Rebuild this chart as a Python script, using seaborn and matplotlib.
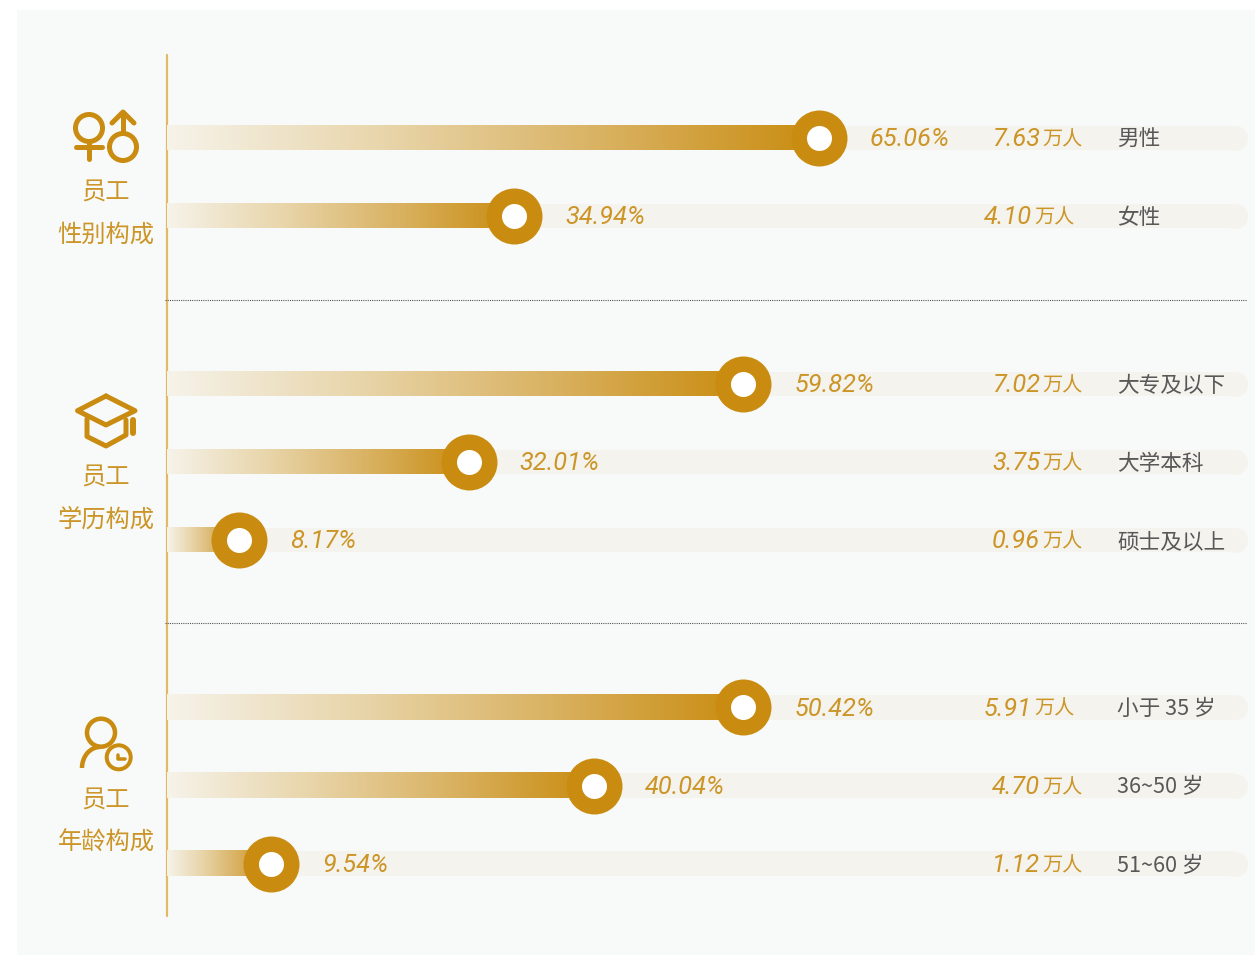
#!/usr/bin/env python3

import matplotlib.pyplot as plt
import numpy as np
import pandas as pd
import seaborn as sns
from matplotlib.patches import Arc, Circle, Rectangle

sns.set_theme(style='white')
plt.rcParams['font.family'] = ['Noto Sans CJK SC', 'DejaVu Sans']

# gender
gender_labels = ['男性', '女性']
gender_pct = ['65.06%', '34.94%']
gender_count = ['7.63', '4.10']
gender_drawn = [60.3, 32.1]

# education
edu_labels = ['大专及以下', '大学本科', '硕士及以上']
edu_pct = ['59.82%', '32.01%', '8.17%']
edu_count = ['7.02', '3.75', '0.96']
edu_drawn = [53.3, 27.9, 6.7]

# age
age_labels = ['小于 35 岁', '36~50 岁', '51~60 岁']
age_pct = ['50.42%', '40.04%', '9.54%']
age_count = ['5.91', '4.70', '1.12']
age_drawn = [53.3, 39.5, 9.6]

group_titles = ['性别构成', '学历构成', '年龄构成']
unit = '万人'

GOLD = '#c98c10'
TEXT_GOLD = '#cc9527'
TRACK = '#f5f3ee'
PANEL = '#f8faf9'
W, H = 1255, 955
PX = 72 / 100  # points per pixel
NUM_FONT = ['Roboto', 'Noto Sans CJK SC']

fig = plt.figure(figsize=(W / 100, H / 100), dpi=100, facecolor='white')

# overlay in pixel coords for panel, rules, icons
bg = fig.add_axes([0, 0, 1, 1], zorder=0)
bg.set_xlim(0, W)
bg.set_ylim(H, 0)
bg.axis('off')
bg.add_patch(Rectangle((17, 10), W - 17, H - 10, color=PANEL, lw=0))
bg.plot([167, 167], [55, 916], color='#e2b966', lw=1.6)
for yy in [300, 623]:
    bg.plot([165, 1247], [yy, yy], color='#555555', lw=0.8, ls=(0, (1, 1)))

gradient = sns.blend_palette(['#f6f3ea', '#e8d5aa', '#d9b262', '#c98c10'], as_cmap=True)


def draw_group(top, bottom, labels, pct, count, drawn, shift):
    ax = fig.add_axes([167 / W, 1 - bottom / H, (1248 - 167) / W, (bottom - top) / H], zorder=2)
    ax.patch.set_alpha(0)
    df = pd.DataFrame({'label': labels, 'drawn': drawn})
    df['track'] = 98.84
    sns.barplot(ax=ax, data=df, y='label', x='track', color=TRACK, saturation=1, width=0.32, linewidth=0)
    ax.scatter(df['track'], df['label'], s=(25 * PX) ** 2, color=TRACK, lw=0, zorder=1)
    n_track = len(ax.patches)
    sns.barplot(ax=ax, data=df, y='label', x='drawn', color=GOLD, saturation=1, width=0.32, linewidth=0)
    ylim = ax.get_ylim()
    for bar in ax.patches[n_track:]:
        bar.set_visible(False)
        ax.imshow(np.linspace(0, 1, 256).reshape(1, -1), cmap=gradient, aspect='auto', zorder=2,
                  extent=(bar.get_x(), bar.get_x() + bar.get_width(),
                          bar.get_y() + bar.get_height(), bar.get_y()))
    ax.set_ylim(ylim)
    ax.set_xlim(0, 100)
    ax.scatter(df['drawn'], df['label'], s=(56 * PX) ** 2, color=GOLD, lw=0, zorder=3, clip_on=False)
    ax.scatter(df['drawn'], df['label'], s=(25 * PX) ** 2, color='white', lw=0, zorder=4, clip_on=False)
    px = 100 / (1248 - 167)
    for i, name in enumerate(labels):
        ax.annotate(pct[i], (drawn[i], i), xytext=(51 * PX, -1.5 * PX), textcoords='offset points',
                    va='center', ha='left', color=TEXT_GOLD, fontsize=18.3, style='italic',
                    family=NUM_FONT, zorder=5)
        ax.annotate(count[i], ((1040 + shift[i] - 167) * px, i), xytext=(0, -1.5 * PX), textcoords='offset points',
                    va='center', ha='right', color=TEXT_GOLD, fontsize=18.3, style='italic',
                    family=NUM_FONT, zorder=5)
        ax.annotate(unit, ((1042 + shift[i] - 167) * px, i), xytext=(0, -2 * PX), textcoords='offset points',
                    va='center', ha='left', color=TEXT_GOLD, fontsize=14.5, zorder=5)
        ax.annotate(name, ((1118 - 167) * px, i), xytext=(-1 * PX, -2 * PX), textcoords='offset points',
                    va='center', ha='left', color='#595757', fontsize=15.6, zorder=5)
    ax.axis('off')
    return ax


draw_group(99, 255, gender_labels, gender_pct, gender_count, gender_drawn, [0, -8])
draw_group(345, 579, edu_labels, edu_pct, edu_count, edu_drawn, [0, 0, 0])
draw_group(668, 903, age_labels, age_pct, age_count, age_drawn, [-8, 0, 0])

# left side titles
for title, y1, y2 in zip(group_titles, [192, 477, 800], [235, 520, 843]):
    bg.text(106, y1, '员工', ha='center', va='center', color=TEXT_GOLD, fontsize=17.5)
    bg.text(106, y2, title, ha='center', va='center', color=TEXT_GOLD, fontsize=17.5)


# icons
def stroke(xs, ys, w=5):
    bg.plot(xs, ys, color=GOLD, lw=w * PX, solid_capstyle='round', solid_joinstyle='round')


def ring(x, y, r, w=5):
    bg.add_patch(Circle((x, y), r, fill=False, ec=GOLD, lw=w * PX))


ring(89, 128, 13.5)
stroke([89, 89], [142, 159])
stroke([76, 102], [147, 147])
ring(123, 147, 13.5)
stroke([123, 123], [133, 113])
stroke([112, 123, 134], [123, 112, 123])

stroke([106, 77.5, 106, 135, 106], [396, 410.7, 425, 410.7, 396], 5)
stroke([87, 87, 106, 126, 126], [419, 436.5, 446, 435, 420], 5)
stroke([133.3, 133.3], [420, 433], 6)

ring(101, 732.7, 14, 4.5)
bg.add_patch(Arc((100, 768), 36, 42, theta1=180, theta2=270, color=GOLD, lw=4.5 * PX))
ring(118.7, 757.3, 12, 4)
stroke([117.5, 117.5, 125], [755, 758.5, 758.5], 3.5)

fig.savefig('out.png', dpi=100)
